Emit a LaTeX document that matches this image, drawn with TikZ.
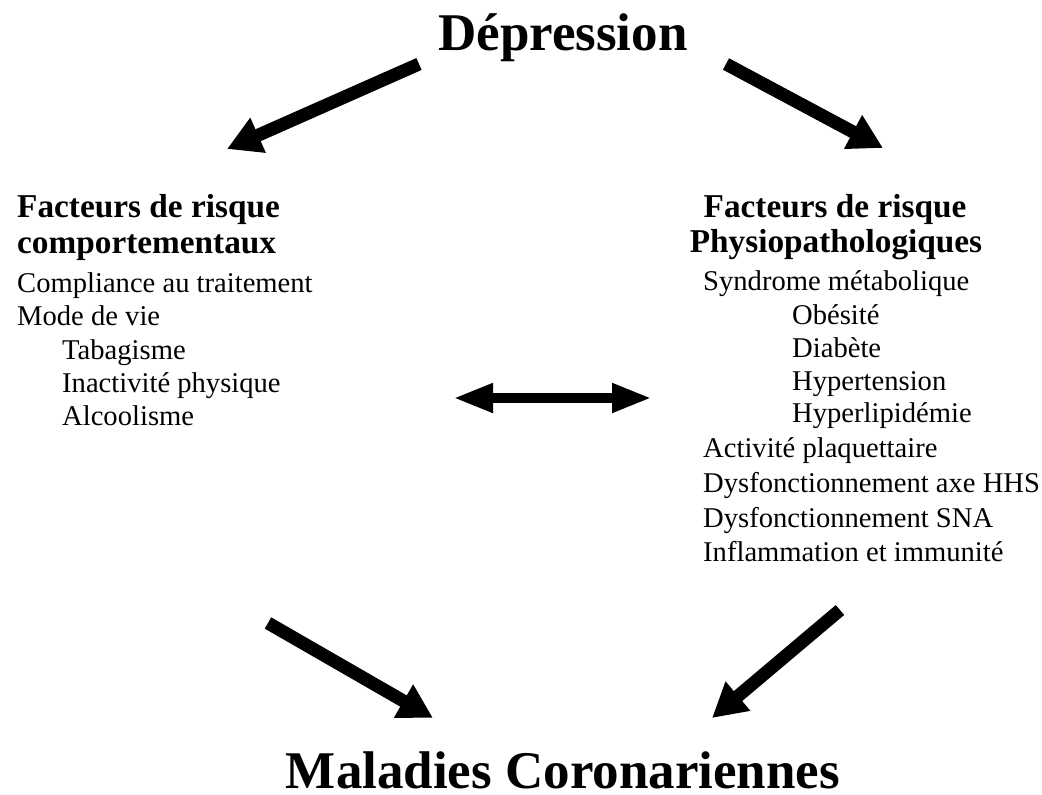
\documentclass[tikz,border=0pt]{standalone}
\usepackage{fontspec}
\setmainfont{Liberation Serif}
\usetikzlibrary{arrows.meta}
\begin{document}
\begin{tikzpicture}[x=1pt,y=-1pt,
  titletext/.style={font=\fontsize{53}{60}\selectfont\bfseries, inner sep=0pt, anchor=base},
  headtext/.style={font=\fontsize{33.3}{36}\selectfont\bfseries, inner sep=0pt},
  bodytext/.style={font=\fontsize{28.6}{33}\selectfont, inner sep=0pt, anchor=base west},
  bigarrow/.style={line width=13pt, -{Triangle[length=34pt,width=36pt]}},
  dblarrow/.style={line width=10pt, {Triangle[length=40pt,width=27pt]}-{Triangle[length=40pt,width=27pt]}}
]
\useasboundingbox[fill=white] (0,0) rectangle (1042,795);

% titles
\node[titletext] (dep) at (563,50) {Dépression};
\node[titletext] (mal) at (563,788) {Maladies Coronariennes};

% left block
\node[headtext, anchor=base west] (beh1) at (17,217) {Facteurs de risque};
\node[headtext, anchor=base west] (beh2) at (17,253) {comportementaux};
\node[bodytext] (l1) at (17,292) {Compliance au traitement};
\node[bodytext] (l2) at (17,325) {Mode de vie};
\node[bodytext] (l3) at (62,359) {Tabagisme};
\node[bodytext] (l4) at (62,392) {Inactivité physique};
\node[bodytext] (l5) at (62,425) {Alcoolisme};

% right block
\node[headtext, anchor=base] (phy1) at (835,217) {Facteurs de risque};
\node[headtext, anchor=base] (phy2) at (836,252) {Physiopathologiques};
\node[bodytext] (r1) at (703,290) {Syndrome métabolique};
\node[bodytext] (r2) at (792,324) {Obésité};
\node[bodytext] (r3) at (792,357) {Diabète};
\node[bodytext] (r4) at (792,390) {Hypertension};
\node[bodytext] (r5) at (792,422) {Hyperlipidémie};
\node[bodytext] (r6) at (703,457) {Activité plaquettaire};
\node[bodytext] (r7) at (703,492) {Dysfonctionnement axe HHS};
\node[bodytext] (r8) at (703,527) {Dysfonctionnement SNA};
\node[bodytext] (r9) at (703,561) {Inflammation et immunité};

% arrow end points
\coordinate (a1s) at (419,64);
\coordinate (a1e) at (227,149);
\coordinate (a2s) at (726,64);
\coordinate (a2e) at (883,148);
\coordinate (a3s) at (268,623);
\coordinate (a3e) at (433,718);
\coordinate (a4s) at (840,610);
\coordinate (a4e) at (712,718);
\coordinate (dl) at (453,398);
\coordinate (dr) at (652,398);

\draw[bigarrow] (a1s) -- (a1e);
\draw[bigarrow] (a2s) -- (a2e);
\draw[bigarrow] (a3s) -- (a3e);
\draw[bigarrow] (a4s) -- (a4e);
\draw[dblarrow] (dl) -- (dr);
\end{tikzpicture}
\end{document}
